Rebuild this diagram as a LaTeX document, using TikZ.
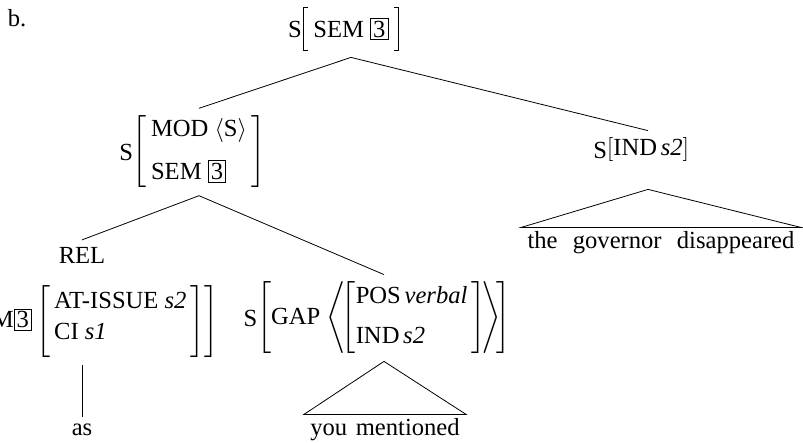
\documentclass[tikz,border=0pt]{standalone}
\usepackage{fontspec}
\setmainfont{Liberation Serif}
\usepackage{amsmath}
\usetikzlibrary{positioning}
\setlength{\fboxsep}{1pt}
\setlength{\fboxrule}{0.5pt}
\newcommand{\bnum}[1]{\fbox{#1}}

\begin{document}
\begin{tikzpicture}[x=0.5pt,y=-0.5pt,
  every node/.style={font=\fontsize{12.3}{14.8}\selectfont},
  avm/.style={inner xsep=0pt, inner ysep=3.5pt},
  topavm/.style={inner xsep=5pt, inner ysep=0pt, minimum height=21pt},
  cat/.style={inner sep=0pt},
  word/.style={inner xsep=3pt, inner ysep=2pt}]

\useasboundingbox (0,0) rectangle (803,443);

\node[cat] (ex) at (17,18) {b.};

%---------------------------------------
% top
%---------------------------------------
\node[topavm] (top) at (351,29) {SEM \bnum{3}};
\draw[line width=0.5pt] ([xshift=2.5pt]top.north west) -| (top.south west) -- ++(2.5pt,0);
\draw[line width=0.5pt] ([xshift=-2.5pt]top.north east) -| (top.south east) -- ++(-2.5pt,0);
\node[cat, left=0.5pt of top] (topS) {S};
\coordinate (topfoot) at ([yshift=-3.5pt]top.south);

%---------------------------------------
% left daughter: relative clause
%---------------------------------------
\node[avm] (mod) at (199,152)
  {$\left[\begin{tabular}{@{\,}l@{\,}}MOD $\langle$S$\rangle$\\[6.7pt]
    SEM \bnum{3}\end{tabular}\right]$};
\node[cat, left=-0.5pt of mod] (modS) {S};

\node (rel) at (82,255) {REL};
\node[avm, anchor=east] (relavm) at (219,322)
  {$\left[\text{SEM\bnum{3}}\left[\begin{tabular}{@{\,}l@{\,}}AT-ISSUE \textit{s2}\\[0.7pt]
    \rule[-8.5pt]{0pt}{8.5pt}CI \textit{s1}\end{tabular}\right]\right]$};
\node (as) at (82,430) {as};

\node[avm] (gap) at (384,318)
  {$\left[\text{GAP }\!\left\langle\!\left[\begin{tabular}{@{}l@{\,}}POS\hspace{0.15em}\textit{verbal}\\[5.2pt]
    IND\hspace{0.15em}\textit{s2}\end{tabular}\right]\!\right\rangle\!\right]$};
\node[cat, left=-0.5pt of gap] (gapS) {S};
\node[word] (ym) at (385,430) {you\hspace{0.35em}mentioned};

%---------------------------------------
% right daughter
%---------------------------------------
\node[avm] (ind) at (648,150) {$\left[\text{IND\hspace{0.15em}\textit{s2}}\right]$};
\node[cat, left=-0.5pt of ind] (indS) {S};
\node[word] (gov) at (661,243) {the\hspace{0.62em}governor\hspace{0.62em}disappeared};

\coordinate (indfoot) at ([yshift=-10pt]ind.south);

% branches
\draw (topfoot) -- (mod.north);
\draw (topfoot) -- (ind.north);
\draw (mod.south) -- (rel.north);
\draw (mod.south) -- (gap.north);
\draw (as.north) -- (as.north |- relavm.south);
\draw (gap.south) -- (ym.north east) -- (ym.north west) -- cycle;
\draw (indfoot) -- (gov.north east) -- (gov.north west) -- cycle;

\end{tikzpicture}
\end{document}
